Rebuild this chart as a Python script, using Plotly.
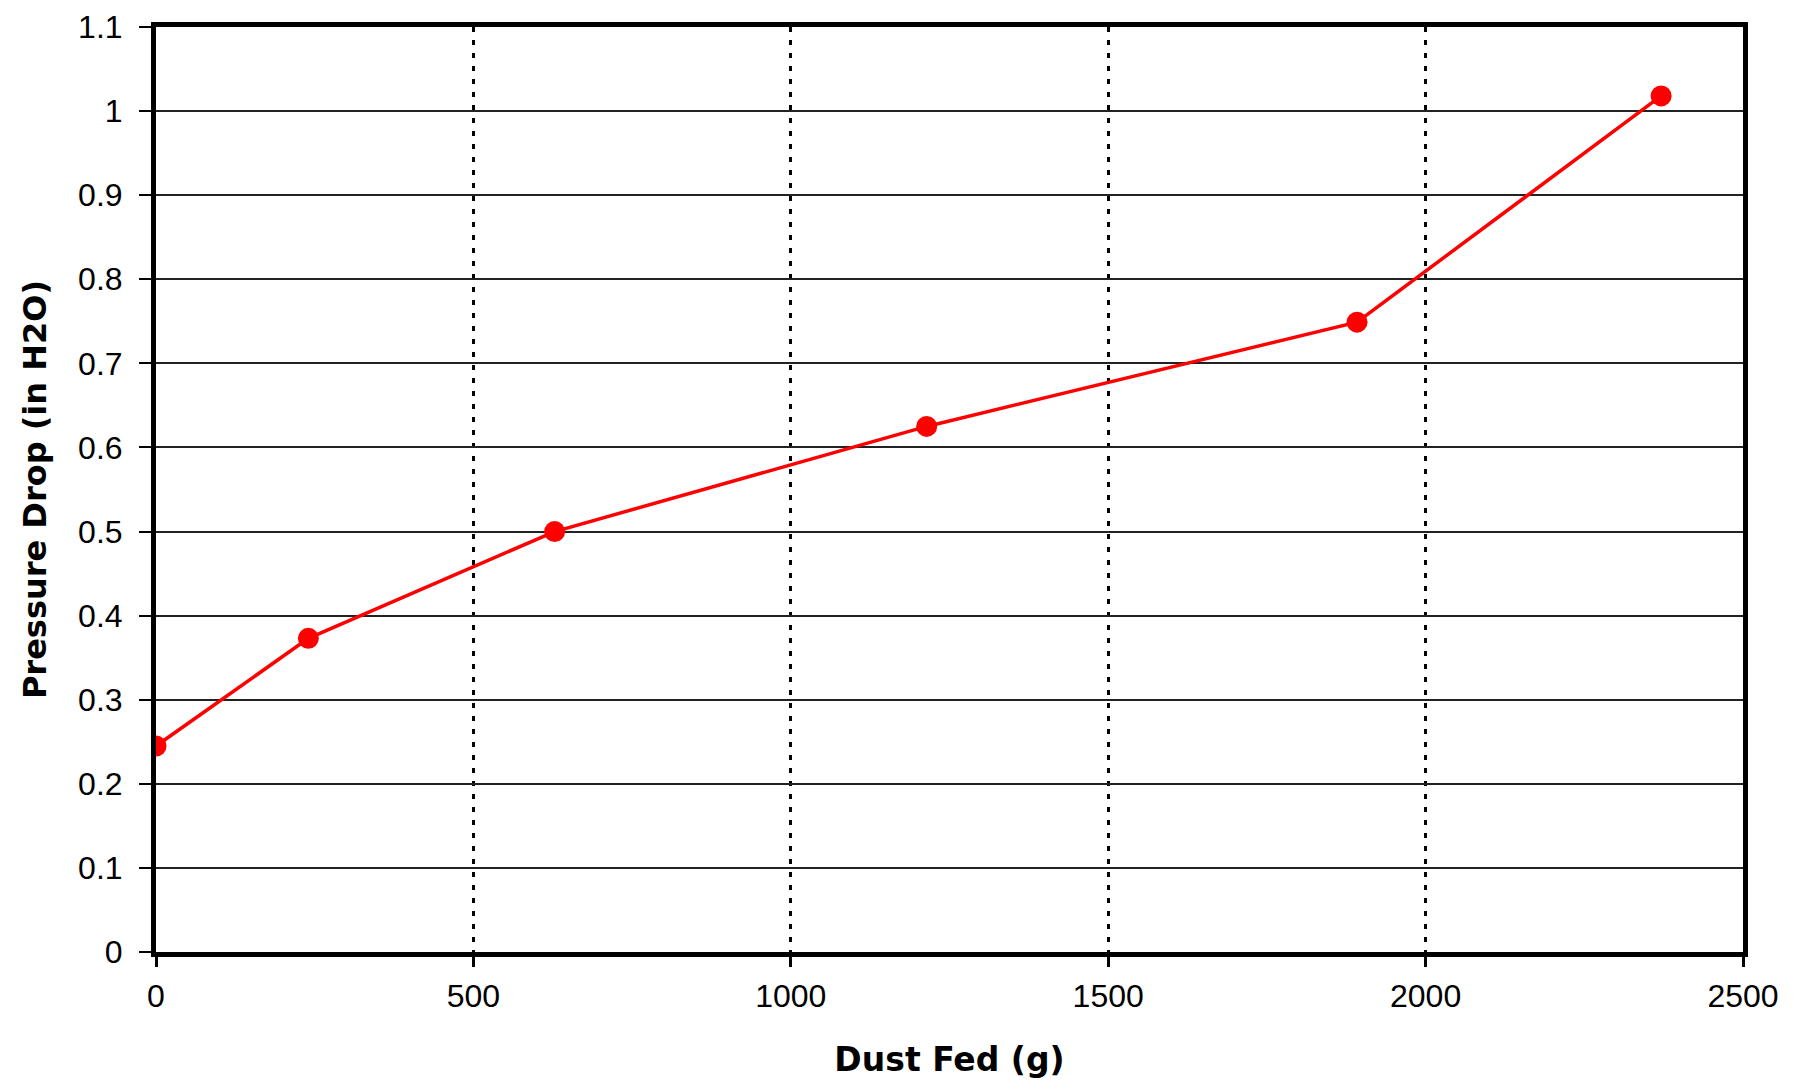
import plotly.graph_objects as go

# Data
dust_fed_g = [0, 240, 628, 1214, 1892, 2371]
pressure_drop_inh2o = [0.245, 0.373, 0.500, 0.625, 0.749, 1.018]

x_ticks = [0, 500, 1000, 1500, 2000, 2500]
y_ticks = [0, 0.1, 0.2, 0.3, 0.4, 0.5, 0.6, 0.7, 0.8, 0.9, 1, 1.1]
y_tick_labels = ["0", "0.1", "0.2", "0.3", "0.4", "0.5", "0.6", "0.7", "0.8", "0.9", "1", "1.1"]

FONT = "Liberation Sans, Arial, sans-serif"
TITLE_FONT = "DejaVu Sans, Liberation Sans, sans-serif"

fig = go.Figure()
fig.add_trace(go.Scatter(
    x=dust_fed_g, y=pressure_drop_inh2o,
    mode="lines+markers",
    line=dict(color="#ff0000", width=3.5),
    marker=dict(color="#ff0000", size=21, symbol="circle"),
    showlegend=False,
))

fig.update_layout(
    width=1809, height=1089,
    margin=dict(l=148, r=74, t=19, b=145, autoexpand=False),
    paper_bgcolor="white", plot_bgcolor="white",
    font=dict(family=FONT, color="black"),
)

fig.update_xaxes(
    range=[0, 2500], automargin=False,
    tickmode="array", tickvals=x_ticks, ticktext=[str(v) for v in x_ticks],
    showline=True, linecolor="black", linewidth=5, mirror=True,
    ticks="outside", ticklen=10, tickwidth=3, tickcolor="black",
    tickfont=dict(family=FONT, size=32, color="black"),
    ticklabelstandoff=2, ticklabeloverflow="allow",
    showgrid=True, gridcolor="black", gridwidth=3, griddash="5px,8px",
    zeroline=False,
    title=dict(text="<b>Dust Fed (g)</b>", font=dict(family=TITLE_FONT, size=33, color="black"), standoff=36),
)

fig.update_yaxes(
    range=[0, 1.1], automargin=False,
    tickmode="array", tickvals=y_ticks, ticktext=y_tick_labels,
    showline=True, linecolor="black", linewidth=5, mirror=True,
    ticks="outside", ticklen=12, tickwidth=1.5, tickcolor="black",
    tickfont=dict(family=FONT, size=32, color="black"),
    ticklabelstandoff=10, ticklabeloverflow="allow",
    showgrid=True, gridcolor="#222222", gridwidth=1.5,
    zeroline=False,
    title=dict(text="<b>Pressure Drop (in H2O)</b>", font=dict(family=TITLE_FONT, size=32, color="black"), standoff=23),
)

fig.write_html("out.html")
